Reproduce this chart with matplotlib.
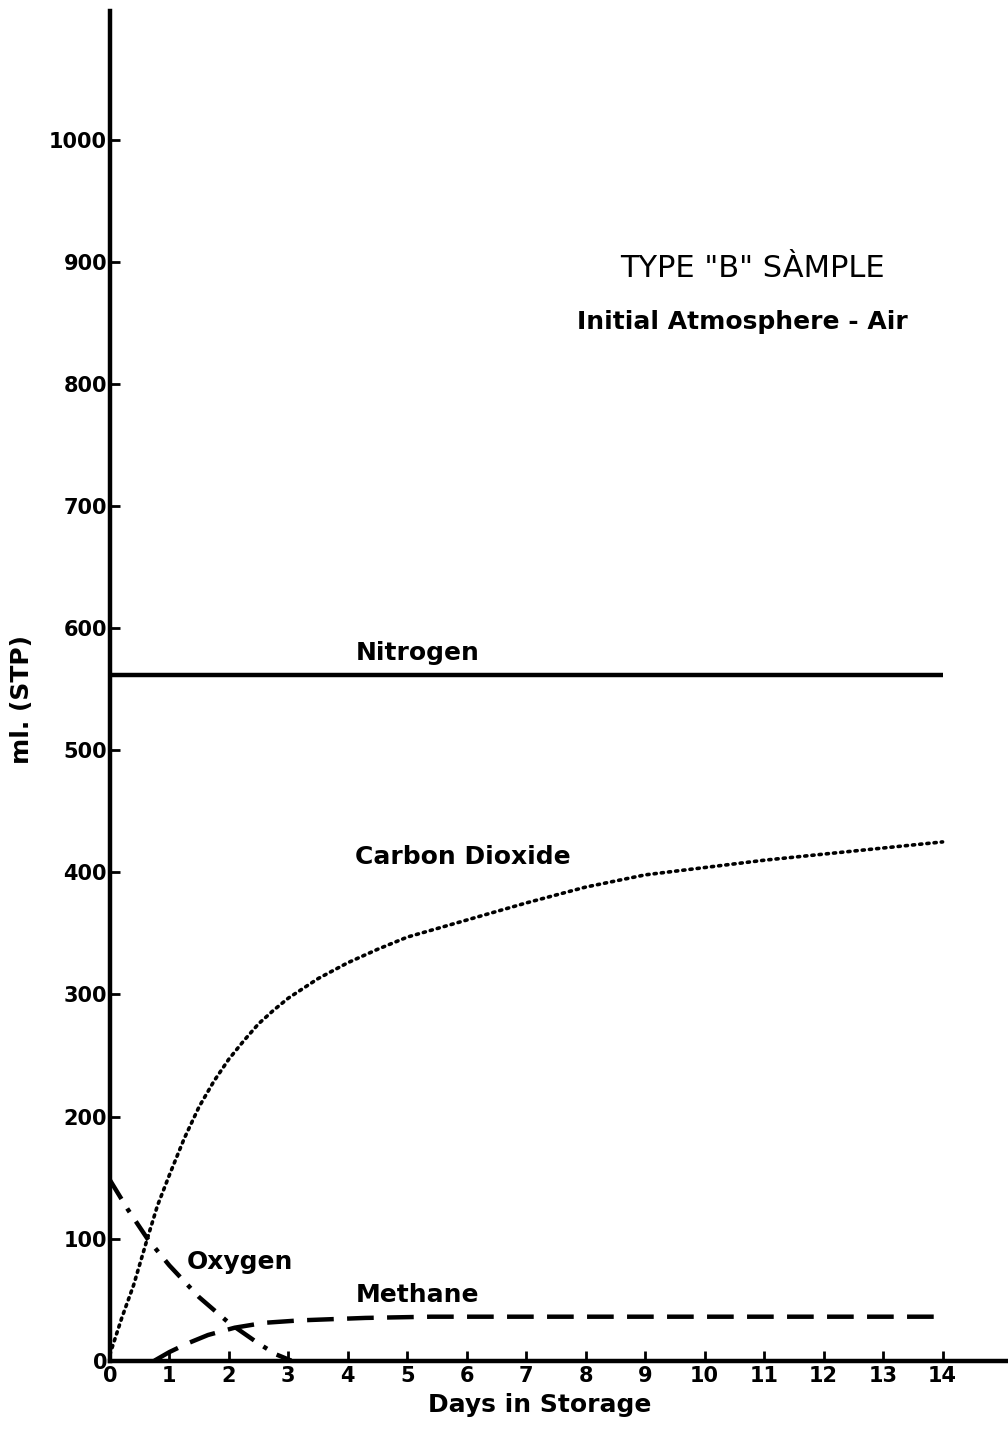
import matplotlib
matplotlib.use("Agg")
import matplotlib.pyplot as plt

# values (days, ml STP)
nitrogen_days = [0, 14]
nitrogen_ml = [562, 562]

co2_days = [0, 0.2, 0.4, 0.63, 0.8, 1.0, 1.25, 1.5, 1.75, 2.0, 2.25, 2.5, 2.75,
            3.0, 3.5, 4.0, 4.5, 5.0, 5.5, 6.0, 7.0, 8.0, 9.0, 10.0, 11.0, 12.0,
            13.0, 14.0]
co2_ml = [5, 35, 62, 100, 127, 152, 182, 208, 229, 247, 262, 276, 287,
          297, 313, 326, 337, 347, 354, 361, 375, 388, 398, 404, 410, 415,
          420, 425]

o2_days = [0, 0.3, 0.63, 1.0, 1.5, 2.0, 2.5, 2.8, 3.05]
o2_ml = [148, 124, 100, 78, 52, 31, 14, 5, 0]

ch4_days = [0.75, 1.0, 1.3, 1.65, 2.1, 2.6, 3.2, 4.3, 5.4, 8.3, 14.0]
ch4_ml = [0, 7, 14, 21, 27, 31, 33, 35, 36, 36, 36]

x_ticks = list(range(0, 15))
y_ticks = list(range(0, 1001, 100))
y_ticklabels = ["0", "100", "200", "300", "400", "500", "600", "700", "800", "900", "1000"]

plt.rcParams["font.family"] = "DejaVu Sans"
plt.rcParams["font.weight"] = "bold"

fig = plt.figure(figsize=(10.08, 14.33), dpi=100)
ax = fig.add_axes([0.109, 0.0505, 0.891, 0.942])

ax.plot(nitrogen_days, nitrogen_ml, color="black", lw=3.2, solid_capstyle="butt")
ax.plot(co2_days, co2_ml, color="black", lw=2.6, linestyle=(0, (0.6, 1.4)),
        dash_capstyle="round")
ax.plot(o2_days, o2_ml, color="black", lw=3.2, linestyle=(0, (5, 2.5, 1, 2.5)))
ax.plot(ch4_days, ch4_ml, color="black", lw=3.2, linestyle=(0, (6, 3)))

ax.set_xlim(0, 15.1)
ax.set_ylim(0, 1106)

ax.spines["top"].set_visible(False)
ax.spines["right"].set_visible(False)
ax.spines["left"].set_linewidth(3.2)
ax.spines["bottom"].set_linewidth(3.2)

ax.set_xticks(x_ticks)
ax.set_yticks(y_ticks)
ax.set_yticklabels(y_ticklabels)
ax.tick_params(axis="both", direction="in", length=7, width=2, labelsize=15)
ax.tick_params(axis="y", pad=2)
ax.tick_params(axis="x", pad=4)

ax.set_xlabel("Days in Storage", fontsize=18, fontweight="bold")
ax.xaxis.set_label_coords(0.479, -0.024)
ax.set_ylabel("ml. (STP)", fontsize=18, fontweight="bold")
ax.yaxis.set_label_coords(-0.084, 0.49)

ax.text(10.8, 895, 'TYPE "B" SÀMPLE', fontsize=22, fontweight="normal",
        ha="center", va="center")
ax.text(10.63, 851, "Initial Atmosphere - Air", fontsize=18, fontweight="bold",
        ha="center", va="center")
ax.text(5.17, 580, "Nitrogen", fontsize=18, ha="center", va="center")
ax.text(5.94, 413, "Carbon Dioxide", fontsize=18, ha="center", va="center")
ax.text(2.19, 81, "Oxygen", fontsize=18, ha="center", va="center")
ax.text(5.17, 54, "Methane", fontsize=18, ha="center", va="center")

fig.savefig("out.png", dpi=100)
